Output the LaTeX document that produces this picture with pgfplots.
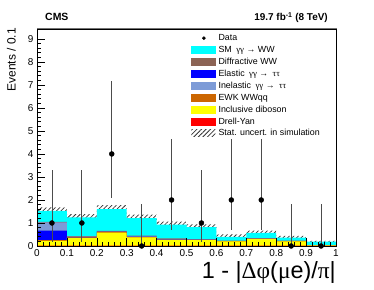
\documentclass[border=0pt]{standalone}
\usepackage{fontspec}
\setmainfont{Liberation Sans}
\newfontfamily\grk{Liberation Serif}
\usepackage{pgfplots}
\pgfplotsset{compat=1.18}
\usepgfplotslibrary{fillbetween}
\usetikzlibrary{patterns.meta}
\definecolor{smcyan}{RGB}{0,255,255}
\definecolor{diffbrown}{RGB}{140,100,85}
\definecolor{elblue}{RGB}{0,0,255}
\definecolor{inelblue}{RGB}{125,155,215}
\definecolor{ewkorange}{RGB}{204,102,0}
\definecolor{dibyellow}{RGB}{255,255,0}
\definecolor{dyred}{RGB}{255,0,0}
\tikzset{hatchpat/.style={pattern={Lines[angle=45,distance=3.2bp,line width=0.75bp]},pattern color=black!80}}
\begin{document}
\begin{tikzpicture}
\begin{axis}[
  at={(37bp,44bp)}, anchor=south west,
  scale only axis, width=299bp, height=217bp,
  xmin=0, xmax=1, ymin=0, ymax=9.43,
  clip=false, axis on top,
  xtick={0,0.1,0.2,0.3,0.4,0.5,0.6,0.7,0.8,0.9,1},
  xticklabels={0,0.1,0.2,0.3,0.4,0.5,0.6,0.7,0.8,0.9,1},
  ytick={0,1,2,3,4,5,6,7,8,9},
  minor x tick num=4, minor y tick num=4,
  xtick pos=bottom, ytick pos=left,
  tick align=inside,
  major tick length=8bp, minor tick length=4bp,
  tick style={black, line width=0.6bp},
  axis line style={black, line width=0.8bp},
  /pgf/number format/assume math mode=true,
  tick label style={font=\fontsize{10}{12}\selectfont},
  xlabel={1 - |{\grk Δφ}({\grk μ}e)/{\grk π}|},
  xlabel style={at={(rel axis cs:1,0)}, anchor=north east, inner sep=0pt, yshift=-15bp, font=\fontsize{23.5}{26}\selectfont},
  ylabel={Events / 0.1},
  ylabel style={at={(rel axis cs:-0.0702,1.004)}, anchor=south east, inner sep=0pt, font=\fontsize{12}{14}\selectfont},
  legend style={at={(0.505,0.995)}, anchor=north west, draw=none, fill=none,
    font=\fontsize{8.9}{10}\selectfont, row sep=0pt, column sep=2bp,
    nodes={inner sep=1bp, text height=7.5bp, text depth=2.4bp}},
  legend cell align=left,
]
% cumulative stacked histograms (drawn from the total downwards)
\addplot[const plot, fill=smcyan, draw=none, forget plot] coordinates {(0,1.53) (0.1,1.24) (0.2,1.60) (0.3,1.21) (0.4,0.93) (0.5,0.82) (0.6,0.40) (0.7,0.57) (0.8,0.36) (0.9,0.19) (1,0.19)} \closedcycle;
\addplot[const plot, fill=diffbrown, draw=none, forget plot] coordinates {(0,1.05) (0.1,0.43) (0.2,0.66) (0.3,0.45) (0.4,0.33) (0.5,0.30) (0.6,0.23) (0.7,0.34) (0.8,0.23) (0.9,0.04) (1,0.04)} \closedcycle;
\addplot[const plot, fill=inelblue, draw=none, forget plot] coordinates {(0,1.03) (0.1,0.41) (0.2,0.64) (0.3,0.43) (0.4,0.31) (0.5,0.28) (0.6,0.22) (0.7,0.33) (0.8,0.22) (0.9,0.03) (1,0.03)} \closedcycle;
\addplot[const plot, fill=elblue, draw=none, forget plot] coordinates {(0,0.67) (0.1,0.38) (0.2,0.63) (0.3,0.41) (0.4,0.29) (0.5,0.27) (0.6,0.21) (0.7,0.32) (0.8,0.21) (0.9,0.03) (1,0.03)} \closedcycle;
\addplot[const plot, fill=ewkorange, draw=none, forget plot] coordinates {(0,0.26) (0.1,0.37) (0.2,0.62) (0.3,0.40) (0.4,0.28) (0.5,0.26) (0.6,0.21) (0.7,0.32) (0.8,0.21) (0.9,0.03) (1,0.03)} \closedcycle;
\addplot[const plot, fill=dibyellow, draw=none, forget plot] coordinates {(0,0.22) (0.1,0.34) (0.2,0.58) (0.3,0.38) (0.4,0.27) (0.5,0.25) (0.6,0.20) (0.7,0.31) (0.8,0.20) (0.9,0.025) (1,0.025)} \closedcycle;
\addplot[const plot, fill=dyred, draw=none, forget plot] coordinates {(0,0.02) (0.1,0.02) (0.2,0.02) (0.3,0.02) (0.4,0.02) (0.5,0.02) (0.6,0.02) (0.7,0.02) (0.8,0.02) (0.9,0.01) (1,0.01)} \closedcycle;
% stat. uncertainty band
\addplot[const plot, draw=none, name path=up, forget plot] coordinates {(0,1.68) (0.1,1.39) (0.2,1.78) (0.3,1.36) (0.4,1.06) (0.5,0.94) (0.6,0.50) (0.7,0.67) (0.8,0.44) (0.9,0.22) (1,0.22)};
\addplot[const plot, draw=none, name path=dn, forget plot] coordinates {(0,1.38) (0.1,1.09) (0.2,1.42) (0.3,1.06) (0.4,0.80) (0.5,0.70) (0.6,0.30) (0.7,0.47) (0.8,0.28) (0.9,0.16) (1,0.16)};
\addplot[hatchpat, draw=none, forget plot] fill between[of=up and dn];
% data
\addplot[only marks, mark=*, mark size=2.5bp, black, forget plot,
  error bars/.cd, y dir=both, y explicit, error mark=none,
  error bar style={black!70, line width=0.8bp}] coordinates {
  (0.05,1) += (0,2.30) -= (0,0.83)
  (0.15,1) += (0,2.30) -= (0,0.83)
  (0.25,4) += (0,3.16) -= (0,1.91)
  (0.35,0) += (0,1.84) -= (0,0)
  (0.45,2) += (0,2.64) -= (0,1.29)
  (0.55,1) += (0,2.30) -= (0,0.83)
  (0.65,2) += (0,2.64) -= (0,1.29)
  (0.75,2) += (0,2.64) -= (0,1.29)
  (0.85,0) += (0,1.84) -= (0,0)
  (0.95,0) += (0,1.84) -= (0,0)
};
% legend
\addlegendimage{legend image code/.code={\fill[black] (11.5bp,0) circle (1.6bp);}}
\addlegendentry{Data}
\addlegendimage{legend image code/.code={\fill[smcyan] (-1bp,-3.5bp) rectangle (23bp,3.5bp);}}
\addlegendentry{SM\enspace{\grk γγ} → WW}
\addlegendimage{legend image code/.code={\fill[diffbrown] (-1bp,-3.5bp) rectangle (23bp,3.5bp);}}
\addlegendentry{Diffractive WW}
\addlegendimage{legend image code/.code={\fill[elblue] (-1bp,-3.5bp) rectangle (23bp,3.5bp);}}
\addlegendentry{Elastic\enspace{\grk γγ} →\enspace{\grk ττ}}
\addlegendimage{legend image code/.code={\fill[inelblue] (-1bp,-3.5bp) rectangle (23bp,3.5bp);}}
\addlegendentry{Inelastic\enspace{\grk γγ} →\enspace{\grk ττ}}
\addlegendimage{legend image code/.code={\fill[ewkorange] (-1bp,-3.5bp) rectangle (23bp,3.5bp);}}
\addlegendentry{EWK WWqq}
\addlegendimage{legend image code/.code={\fill[dibyellow] (-1bp,-3.5bp) rectangle (23bp,3.5bp);}}
\addlegendentry{Inclusive diboson}
\addlegendimage{legend image code/.code={\fill[dyred] (-1bp,-3.5bp) rectangle (23bp,3.5bp);}}
\addlegendentry{Drell-Yan}
\addlegendimage{legend image code/.code={\path[hatchpat, draw=none] (-1bp,-3.5bp) rectangle (23bp,3.5bp);}}
\addlegendentry{Stat. uncert. in simulation}
% frame top/right and titles
\draw[black!55, line width=1bp] (rel axis cs:0,1) -- (rel axis cs:1,1) -- (rel axis cs:1,0);
\node[anchor=base west, font=\bfseries\fontsize{10.5}{12}\selectfont, inner sep=0pt, xshift=8bp, yshift=8bp] at (rel axis cs:0,1) {CMS};
\node[anchor=base east, font=\bfseries\fontsize{10}{12}\selectfont, inner sep=0pt, xshift=-8bp, yshift=8bp] at (rel axis cs:1,1) {19.7 fb\textsuperscript{-1} (8 TeV)};
\end{axis}
\pgfresetboundingbox
\useasboundingbox (0,0) rectangle (374bp,290bp);
\end{tikzpicture}
\end{document}
